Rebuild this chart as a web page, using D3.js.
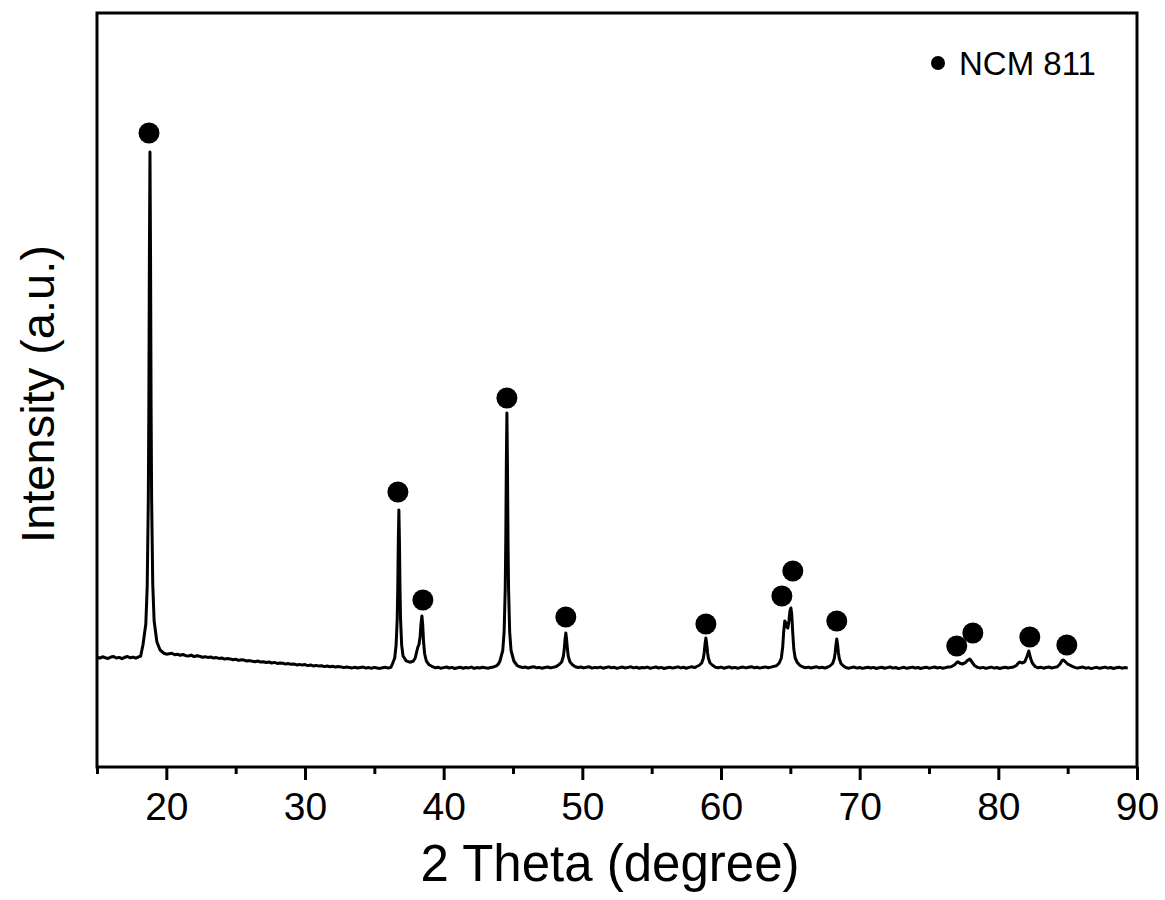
<!DOCTYPE html>
<html>
<head>
<meta charset="utf-8">
<script src="https://cdn.jsdelivr.net/npm/d3@7"></script>
<style>
    body { margin: 0; background: #fff; }
    svg { display: block; font-family: "Liberation Sans", Arial, sans-serif; }
</style>
</head>
<body>
<svg id="chart" width="1165" height="900"></svg>
<script>
// XRD scan: [2 theta, counts]
let xrdScan = [
    [15.0,1098],[15.2,1088],[15.4,1102],[15.6,1093],[15.8,1085],[16.0,1099],[16.2,1104],[16.4,1090],[16.6,1096],[16.8,1083],
    [17.0,1097],[17.2,1105],[17.4,1092],[17.6,1099],[17.8,1088],[18.0,1101],[18.15,1110],
    [18.32,1225],[18.52,1430],[18.62,1800],[18.70,2670],[18.74,3620],[18.78,5140],[18.82,6150],[18.86,5140],[18.90,3620],
    [18.94,2670],[19.02,1830],[19.12,1460],[19.32,1250],[19.55,1170],
    [19.8,1140],[20.0,1128],[20.2,1133],[20.4,1137],[20.6,1122],[20.8,1127],[21.0,1118],[21.2,1125],[21.4,1113],[21.6,1110],
    [21.8,1119],[22.0,1104],[22.2,1112],[22.4,1107],[22.6,1098],[22.8,1103],[23.0,1096],[23.2,1101],[23.4,1089],[23.6,1094],
    [23.8,1086],[24.0,1090],[24.2,1079],[24.4,1085],[24.6,1081],[24.8,1072],[25.0,1078],[25.2,1066],[25.4,1073],[25.6,1069],
    [25.8,1060],[26.0,1064],[26.2,1058],[26.4,1052],[26.6,1060],[26.8,1049],[27.0,1053],[27.2,1045],[27.4,1050],[27.6,1040],
    [27.8,1046],[28.0,1036],[28.2,1041],[28.4,1038],[28.6,1029],[28.8,1034],[29.0,1027],[29.2,1031],[29.4,1021],[29.6,1026],
    [29.8,1019],[30.0,1024],[30.2,1014],[30.4,1020],[30.6,1011],[30.8,1016],[31.0,1009],[31.2,1013],[31.4,1004],[31.6,1010],
    [31.8,1002],[32.0,1008],[32.2,999],[32.4,1004],[32.6,1001],[32.8,994],[33.0,1000],[33.2,996],[33.4,991],[33.6,998],
    [33.8,990],[34.0,995],[34.2,999],[34.4,989],[34.6,994],[34.8,988],[35.0,996],[35.2,990],[35.4,986],[35.6,993],
    [35.8,997],[36.0,989],[36.2,998],
    [36.30,1030],[36.47,1090],[36.57,1220],[36.65,1480],[36.69,1790],[36.73,2260],[36.77,2570],[36.81,2260],[36.85,1790],
    [36.89,1480],[36.97,1220],[37.07,1110],[37.30,1062],[37.55,1048],[37.8,1058],[37.95,1090],[38.05,1150],[38.14,1200],
    [38.22,1225],[38.30,1300],[38.36,1420],[38.43,1510],[38.49,1420],[38.55,1250],[38.63,1130],[38.75,1060],[38.95,1022],
    [39.2,1003],
    [39.4,992],[39.6,998],[39.8,987],[40.0,994],[40.2,1000],[40.4,990],[40.6,996],[40.8,985],[41.0,993],[41.2,997],
    [41.4,988],[41.6,995],[41.8,991],[42.0,999],[42.2,986],[42.4,994],[42.6,990],[42.8,998],[43.0,992],[43.2,987],
    [43.4,996],[43.6,1001],[43.8,1012],[43.95,1030],
    [44.06,1060],[44.26,1165],[44.36,1350],[44.44,1785],[44.48,2270],[44.52,3030],[44.56,3540],[44.60,3030],[44.64,2270],
    [44.68,1785],[44.76,1350],[44.86,1165],[45.06,1060],[45.3,1015],
    [45.5,1002],[45.7,994],[45.9,999],[46.1,990],[46.3,997],[46.5,1003],[46.7,992],[46.9,996],[47.1,988],[47.3,995],
    [47.5,1000],[47.7,991],[47.9,997],[48.1,1004],
    [48.31,1022],[48.51,1050],[48.63,1105],[48.69,1170],[48.75,1270],[48.81,1340],[48.87,1270],[48.93,1170],[48.99,1105],
    [49.11,1050],[49.31,1020],
    [49.5,1003],[49.7,995],[49.9,1000],[50.1,991],[50.3,997],[50.5,1002],[50.7,989],[50.9,996],[51.1,993],[51.3,999],
    [51.5,988],[51.7,995],[51.9,1001],[52.1,992],[52.3,997],[52.5,986],[52.7,994],[52.9,999],[53.1,990],[53.3,996],
    [53.5,1002],[53.7,991],[53.9,997],[54.1,988],[54.3,995],[54.5,992],[54.7,999],[54.9,987],[55.1,994],[55.3,1000],
    [55.5,990],[55.7,996],[55.9,985],[56.1,993],[56.3,998],[56.5,989],[56.7,995],[56.9,1001],[57.1,991],[57.3,997],
    [57.5,988],[57.7,996],[57.9,1002],[58.1,994],[58.25,1005],
    [58.41,1015],[58.61,1040],[58.73,1090],[58.79,1145],[58.85,1230],[58.91,1290],[58.97,1230],[59.03,1145],[59.09,1090],
    [59.21,1040],[59.41,1015],
    [59.6,998],[59.8,992],[60.0,999],[60.2,988],[60.4,995],[60.6,1001],[60.8,990],[61.0,996],[61.2,987],[61.4,994],
    [61.6,999],[61.8,991],[62.0,997],[62.2,1003],[62.4,992],[62.6,998],[62.8,989],[63.0,996],[63.2,1001],[63.4,993],
    [63.6,999],[63.8,1006],
    [64.0,1012],[64.2,1040],[64.35,1090],[64.45,1200],[64.52,1350],[64.60,1460],[64.68,1440],[64.76,1400],[64.82,1390],
    [64.90,1460],[64.97,1560],[65.04,1590],[65.10,1530],[65.17,1350],[65.25,1180],[65.35,1090],[65.5,1045],[65.7,1015],
    [65.9,1000],[66.1,993],[66.3,999],[66.5,990],[66.7,997],[66.9,1002],[67.1,992],[67.3,998],[67.5,989],[67.7,1000],
    [67.85,1010],[68.05,1035],[68.17,1085],[68.23,1140],[68.29,1220],[68.35,1280],[68.41,1220],[68.47,1140],[68.53,1085],
    [68.65,1035],[68.85,1008],
    [69.0,995],[69.2,988],[69.4,994],[69.6,999],[69.8,989],[70.0,995],[70.2,986],[70.4,993],[70.6,998],[70.8,990],
    [71.0,996],[71.2,985],[71.4,992],[71.6,997],[71.8,988],[72.0,994],[72.2,1000],[72.4,989],[72.6,995],[72.8,984],
    [73.0,991],[73.2,997],[73.4,987],[73.6,993],[73.8,999],[74.0,990],[74.2,995],[74.4,985],[74.6,992],[74.8,998],
    [75.0,988],[75.2,994],[75.4,1000],[75.6,990],[75.8,996],[76.0,987],[76.2,994],[76.4,999],
    [76.6,1003],[76.85,1022],[77.0,1045],[77.08,1052],[77.2,1040],[77.4,1030],[77.6,1042],[77.8,1068],[77.94,1080],
    [78.1,1050],[78.3,1012],[78.5,996],
    [78.7,990],[78.9,996],[79.1,986],[79.3,993],[79.5,999],[79.7,989],[79.9,995],[80.1,985],[80.3,992],[80.5,998],
    [80.7,990],[80.9,996],[81.1,1001],
    [81.3,1015],[81.45,1040],[81.55,1050],[81.7,1040],[81.9,1052],[82.05,1100],[82.2,1160],[82.32,1090],[82.45,1040],
    [82.65,1005],
    [82.85,992],[83.05,998],[83.25,988],[83.45,995],[83.65,1000],[83.85,990],[84.05,996],[84.25,1002],
    [84.45,1030],[84.6,1065],[84.7,1070],[84.85,1050],[85.0,1030],[85.3,1008],
    [85.5,996],[85.7,989],[85.9,995],[86.1,999],[86.3,988],[86.5,994],[86.7,984],[86.9,991],[87.1,997],[87.3,987],
    [87.5,993],[87.7,999],[87.9,989],[88.1,995],[88.3,985],[88.5,992],[88.7,998],[88.9,988],[89.1,994],[89.33,991]
];

// NCM 811 reflection markers
let markerAngle  = [18.75, 36.70, 38.50, 44.56, 48.81, 58.91, 64.39, 65.18, 68.35, 77.00, 78.16, 82.27, 84.94];
let markerCounts = [6340, 2750, 1670, 3690, 1500, 1430, 1710, 1960, 1460, 1210, 1340, 1300, 1220];

let majorTicks = [20, 30, 40, 50, 60, 70, 80, 90];
let minorTicks = [15, 25, 35, 45, 55, 65, 75, 85];
let legendLabel = "NCM 811";
let xTitle = "2 Theta (degree)";
let yTitle = "Intensity (a.u.)";

let svg = d3.select("#chart");
let pl = 97, pr = 1137, pt = 13, pb = 767;

let x = d3.scaleLinear().domain([15, 90]).range([pl, pr]);
let y = d3.scaleLinear().domain([0, 7540]).range([pb, pt]);

// pattern
svg.append("path")
    .datum(xrdScan)
    .attr("fill", "none")
    .attr("stroke", "#000")
    .attr("stroke-width", 3)
    .attr("stroke-linejoin", "round")
    .attr("d", d3.line().x(d => x(d[0])).y(d => y(d[1])));

svg.selectAll("circle.marker")
    .data(markerAngle)
    .join("circle")
    .attr("class", "marker")
    .attr("cx", d => x(d))
    .attr("cy", (d, i) => y(markerCounts[i]))
    .attr("r", 10.5)
    .style("fill", "#000");

// axes
let xAxis = svg.append("g")
    .attr("transform", `translate(0,${pb})`)
    .call(d3.axisBottom(x).tickValues(majorTicks).tickSize(13).tickPadding(12).tickFormat(d3.format("d")));
xAxis.select(".domain").remove();
xAxis.selectAll("line").attr("stroke-width", 3);
xAxis.selectAll("text")
    .style("font-family", "'Liberation Sans', Arial, sans-serif")
    .style("font-size", "39px")
    .style("fill", "#000");

let xMinor = svg.append("g")
    .attr("transform", `translate(0,${pb})`)
    .call(d3.axisBottom(x).tickValues(minorTicks).tickSize(7).tickFormat(""));
xMinor.select(".domain").remove();
xMinor.selectAll("line").attr("stroke-width", 3);

svg.append("rect")
    .attr("x", pl).attr("y", pt)
    .attr("width", pr - pl).attr("height", pb - pt)
    .style("fill", "none")
    .style("stroke", "#000")
    .style("stroke-width", 3);

// titles
svg.append("text")
    .attr("x", 610).attr("y", 881)
    .attr("text-anchor", "middle")
    .style("font-size", "51px")
    .text(xTitle);

svg.append("text")
    .attr("transform", "translate(54,394) rotate(-90)")
    .attr("text-anchor", "middle")
    .style("font-size", "47px")
    .text(yTitle);

// legend
let legend = svg.append("g").attr("transform", "translate(938,63)");
legend.append("circle").attr("r", 7).style("fill", "#000");
legend.append("text")
    .attr("x", 21).attr("y", 12)
    .style("font-size", "33px")
    .text(legendLabel);
</script>
</body>
</html>
